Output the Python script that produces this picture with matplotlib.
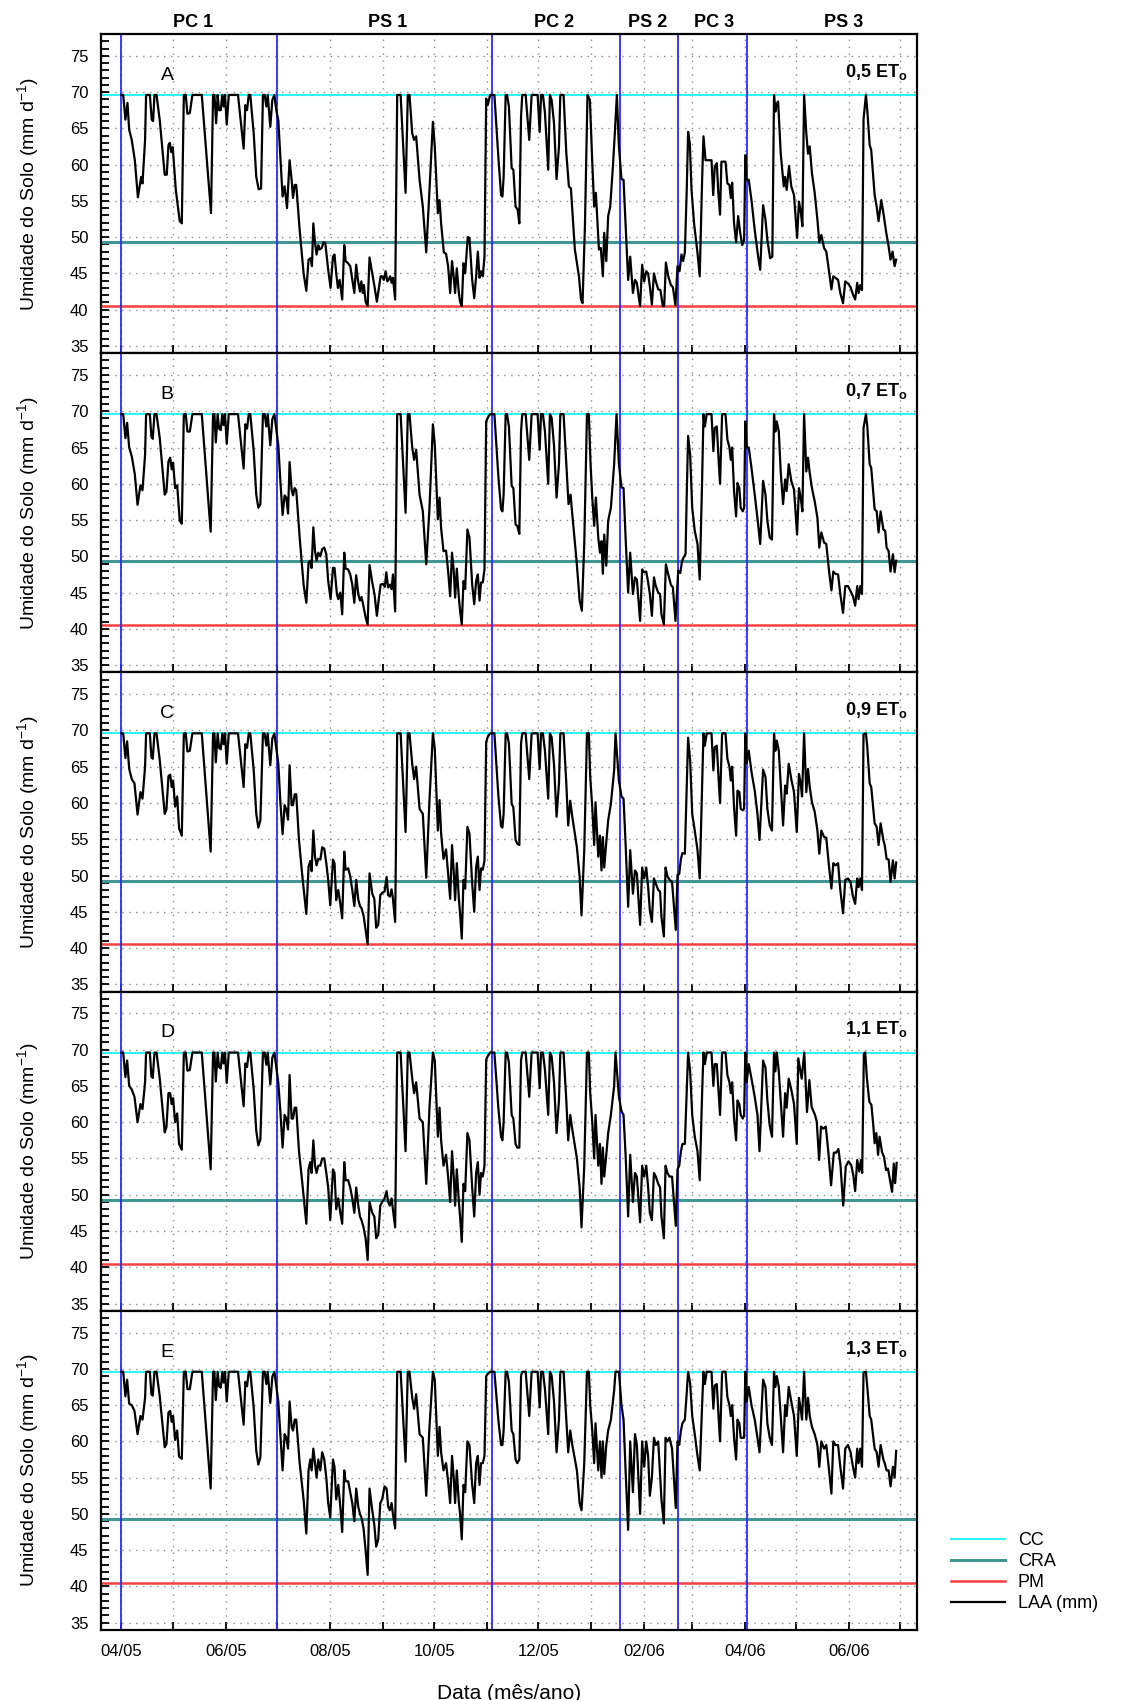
import matplotlib
matplotlib.use("Agg")
import matplotlib.pyplot as plt
import matplotlib.dates as mdates
import numpy as np

plt.rcParams['font.family'] = ['Liberation Sans', 'DejaVu Sans']
plt.rcParams['mathtext.fontset'] = 'custom'
plt.rcParams['mathtext.rm'] = 'Liberation Sans'
plt.rcParams['mathtext.bf'] = 'Liberation Sans:bold'

# ---- data (days counted from 01/04/2005, soil water in mm) ----
start = mdates.datestr2num('2005-04-01')

cc, cra, pm = 69.6, 49.3, 40.5
phase_dates = ['2005-04-01', '2005-07-01', '2005-11-04', '2006-01-18', '2006-02-21', '2006-04-02']
phase_names = ['PC 1', 'PS 1', 'PC 2', 'PS 2', 'PC 3', 'PS 3']
phase_label_days = [42, 156, 253, 308, 347, 423]
panel_letters = ['A', 'B', 'C', 'D', 'E']
eto_labels = ['0,5', '0,7', '0,9', '1,1', '1,3']
ylabels = ['Umidade do Solo (mm d$^{-1}$)'] * 3 + ['Umidade do Solo (mm$^{-1}$)', 'Umidade do Solo (mm d$^{-1}$)']

days_A = [0, 1, 2.3, 3.5, 4.5, 6, 7.8, 9.6, 11.5, 12.3, 13.8, 14.4, 16.6, 17.7, 18.5, 19.3, 20.5, 22.4, 25.3, 26.5,
          27.5, 28.3, 29.2, 30, 31.8, 34.1, 35.3, 36.5, 37.6, 38.6, 40, 41.5, 47, 52.4, 53.6, 54.4, 55.4, 56.3, 57.1, 58.1,
          59, 59.8, 60.6, 61.6, 62.8, 68.2, 71.5, 72.5, 73.5, 74.5, 75.4, 77.4, 78.9, 80.3, 81.7, 82.8, 83.8, 84.8, 85.6, 87.1,
          88.3, 89.5, 90.6, 91.8, 93, 94.3, 95.5, 96.9, 98.4, 99.6, 100.4, 101.4, 102.3, 104.3, 106.6, 108.2, 109.5, 110.7, 111.5, 112.3,
          113.3, 114.2, 115.2, 116, 117.2, 118.3, 119.3, 121, 122.4, 123.8, 124.7, 125.7, 126.7, 127.7, 129.2, 130.4, 131.2, 132.6, 133.9, 135.1,
          136.3, 137.4, 138.4, 139.6, 140.4, 141.3, 141.9, 142.9, 144.1, 145.2, 146.8, 148.1, 149.5, 150.7, 151.7, 152.6, 153.6, 154.6, 155.6, 156.3,
          157.3, 158.1, 158.9, 160.2, 161.4, 163.4, 166.3, 167.6, 168.6, 170.2, 171.3, 172.5, 174.5, 176.4, 178.4, 180.3, 182.3, 183.4, 185.2, 186.2,
          187.1, 188.7, 190, 191.2, 192.4, 193.5, 194.3, 195.3, 196.3, 197.5, 198.2, 199.2, 200.2, 201.2, 202.7, 203.7, 205.3, 206.5, 207.6, 208.6,
          209.6, 210.5, 211.5, 212.5, 213.5, 214.4, 215.8, 218.3, 220.6, 222.2, 223, 223.7, 224.9, 225.7, 226.8, 228.4, 229.4, 230.7, 231.9, 232.9,
          233.9, 234.6, 236.6, 238.7, 240.1, 243.6, 244.8, 245.6, 246.7, 247.9, 249.8, 250.8, 251.8, 253.2, 254.7, 256.1, 256.9, 258.8, 260.4, 261.9,
          263.1, 265.4, 267.8, 269, 269.9, 271.3, 272.8, 274.2, 275.6, 276.7, 277.7, 279.5, 280.6, 281.8, 282.6, 283.8, 284.9, 286.1, 287.7, 288.8,
          290, 291.2, 292.7, 293.9, 295.1, 296.6, 297.8, 299.4, 300.6, 301.7, 302.9, 303.6, 304.8, 306, 307.2, 308.3, 309.3, 310.5, 311.7, 312.8,
          314.2, 315.5, 316.9, 317.7, 318.7, 320.1, 321.6, 322.8, 324.3, 325.5, 326.7, 327.8, 328.8, 329.8, 330.9, 331.7, 332.7, 333.7, 335.2, 337.2,
          338.5, 339.9, 340.7, 341.9, 345.4, 346.4, 347.3, 348.5, 349.3, 350.4, 351.2, 353.6, 354.7, 355.9, 356.7, 357.5, 358.6, 359.8, 361, 362.2,
          363.4, 364.5, 365.2, 366, 367.2, 368.8, 370.7, 372.7, 373.9, 375.6, 377, 378.1, 379.7, 381, 382, 382.8, 383.6, 384.4, 385.9, 387.7,
          388.5, 389.4, 390.8, 392.1, 393.7, 395.5, 396.6, 397.6, 398.6, 399.6, 400.9, 401.9, 402.9, 404.2, 405.8, 407.4, 408.5, 409.7, 411.3, 412.6,
          414.2, 415.6, 416.7, 417.9, 419.5, 420.8, 422.4, 423.7, 425.3, 426.8, 428.2, 429.5, 430.7, 431.5, 432.5, 433.5, 434.4, 435.8, 436.6, 438,
          438.9, 440.9, 442.1, 443.2, 444.8, 446.3, 447.7, 449.1, 450.2, 451.4, 452.6, 453.5]
laa_A = [69.6, 69.6, 66.2, 68.5, 64.8, 63.4, 60.6, 55.5, 58.3, 57.4, 63.4, 69.6, 69.6, 66.2, 66.0, 69.6, 69.6, 66.1, 58.6, 58.6,
         62.7, 63.0, 61.7, 62.4, 56.5, 52.2, 51.9, 69.6, 69.6, 67.0, 67.1, 69.6, 69.6, 53.3, 69.6, 69.6, 65.7, 69.6, 67.5, 67.5,
         69.6, 68.0, 69.6, 65.5, 69.6, 69.6, 62.2, 68.2, 67.5, 69.6, 69.6, 64.3, 58.3, 56.6, 56.7, 69.6, 69.6, 68.0, 69.6, 65.2,
         68.9, 69.6, 67.5, 66.1, 61.1, 55.6, 57.0, 54.0, 60.6, 57.9, 55.4, 57.2, 57.2, 51.0, 45.0, 42.6, 46.9, 47.1, 46.0, 51.9,
         49.2, 47.6, 48.9, 48.3, 48.5, 49.3, 49.2, 45.5, 43.0, 47.3, 47.6, 45.0, 43.0, 44.1, 41.4, 48.9, 46.7, 46.4, 46.0, 44.1,
         42.3, 46.2, 44.1, 42.5, 43.9, 42.3, 43.4, 41.1, 40.5, 47.2, 45.0, 43.2, 41.1, 43.0, 44.6, 44.6, 44.1, 45.3, 43.9, 44.1,
         44.6, 43.7, 44.4, 41.4, 69.6, 69.6, 56.1, 69.6, 69.6, 64.3, 63.4, 63.9, 57.9, 54.2, 47.9, 56.5, 65.9, 62.5, 53.3, 55.1,
         51.9, 47.9, 47.7, 46.0, 42.3, 46.7, 45.0, 42.3, 45.7, 42.3, 41.1, 40.5, 46.4, 45.0, 50.0, 49.9, 44.1, 41.6, 44.6, 48.0,
         44.4, 45.3, 44.6, 47.3, 69.1, 68.2, 69.6, 69.6, 61.1, 55.8, 55.6, 58.3, 69.6, 69.6, 68.0, 59.5, 59.3, 54.2, 53.8, 51.9,
         66.6, 69.6, 69.6, 63.4, 69.6, 69.6, 64.5, 69.6, 69.6, 67.1, 59.3, 69.6, 68.9, 65.7, 58.0, 62.5, 69.6, 69.6, 61.6, 57.0,
         56.7, 48.3, 44.6, 41.4, 40.9, 51.5, 69.6, 68.9, 60.3, 54.2, 56.1, 48.3, 48.5, 44.6, 50.6, 46.7, 52.9, 54.2, 59.8, 64.3,
         69.6, 62.5, 58.0, 57.9, 51.9, 44.1, 47.3, 42.3, 44.1, 43.7, 41.6, 40.5, 46.2, 43.9, 45.3, 45.0, 43.2, 40.7, 45.0, 43.9,
         42.8, 42.7, 40.5, 40.5, 46.5, 44.6, 43.4, 43.1, 40.6, 46.0, 45.3, 47.6, 46.7, 47.9, 56.5, 64.5, 62.9, 56.5, 51.9, 47.8,
         44.6, 57.9, 63.9, 60.6, 60.6, 55.8, 59.7, 60.2, 56.5, 53.1, 60.4, 60.4, 57.4, 57.2, 55.4, 57.5, 51.9, 49.3, 52.9, 50.6,
         48.9, 49.6, 61.3, 57.9, 57.9, 55.1, 51.0, 47.3, 45.5, 54.4, 52.4, 49.6, 47.1, 47.3, 69.6, 67.3, 68.4, 68.7, 61.6, 57.0,
         58.3, 56.5, 59.8, 57.0, 55.8, 49.9, 54.9, 53.6, 51.5, 69.6, 64.3, 61.5, 62.5, 58.8, 56.1, 52.4, 49.3, 50.3, 48.5, 48.0,
         45.3, 42.8, 44.6, 44.4, 44.1, 42.3, 40.9, 43.9, 43.6, 43.1, 42.1, 41.4, 43.7, 42.3, 43.4, 42.7, 66.2, 69.6, 67.5, 62.7,
         62.0, 55.8, 54.2, 52.2, 55.1, 52.9, 50.6, 48.7, 46.9, 48.0, 46.0, 46.9]

days_B = [0, 1, 2.3, 3.3, 4.5, 6, 7.8, 9.4, 11.1, 12.3, 13.8, 14.4, 16.6, 17.5, 18.3, 19.3, 20.5, 22.4, 25.3, 26.3,
          27.5, 28.5, 29.4, 30.2, 31.4, 32.6, 34.1, 35.3, 36.5, 37.6, 38.6, 40, 41.5, 47, 52.2, 53.6, 54.4, 55.2, 56.3, 57.1,
          58.1, 59, 59.8, 60.6, 61.6, 62.8, 68.2, 71.5, 72.5, 73.5, 74.5, 75.4, 77.4, 78.9, 80.1, 81.3, 82.8, 83.8, 84.8, 85.6,
          87.1, 88.3, 89.5, 90.6, 91.8, 93, 94.3, 95.5, 96.5, 97.5, 98.4, 99.6, 100.4, 101.4, 102.3, 104.3, 106.6, 108.2, 109.5, 110.5,
          111.3, 112.3, 113.3, 114.2, 115.2, 116.4, 117.5, 118.7, 119.9, 121, 122.4, 123.8, 124.7, 126.1, 126.9, 128.1, 129.2, 130.4, 131.2, 132.7,
          133.9, 135.1, 136.3, 137.4, 138.6, 139.6, 140.5, 141.5, 142.9, 144.1, 145.2, 146.8, 148.1, 149.5, 150.7, 151.7, 153, 154.2, 155, 156.1,
          157.3, 158.1, 158.9, 160.2, 161.4, 163.4, 166.3, 167.6, 168.6, 170.2, 171.3, 172.5, 174.5, 176.4, 178.4, 180.3, 182.3, 183.4, 185.2, 186.2,
          187.1, 188.5, 190, 191.2, 192.4, 193.5, 194.5, 195.3, 196.3, 197.5, 198.2, 199.2, 200.2, 201.2, 202.5, 203.7, 205.3, 206.5, 207.6, 208.6,
          209.6, 210.5, 211.5, 212.5, 213.5, 214.4, 215.8, 218.3, 220.6, 222.2, 223, 223.7, 224.9, 225.7, 226.8, 228.4, 229.4, 230.7, 231.7, 232.9,
          233.9, 234.6, 236.6, 238.7, 240.1, 243.6, 244.8, 245.6, 246.7, 247.9, 249.8, 250.8, 251.8, 253.2, 254.7, 256.1, 256.9, 258.8, 260.4, 261.7,
          262.9, 263.9, 266.4, 268.2, 269.5, 270.9, 272.5, 273.6, 274.6, 275.6, 276.7, 277.7, 279.1, 280.1, 281, 281.8, 282.6, 283.8, 284.9, 286.5,
          288.4, 289.8, 291.2, 292.7, 293.9, 295.1, 296.6, 297.8, 299.4, 300.6, 301.7, 303.6, 304.8, 306, 307.2, 308.3, 309.3, 310.5, 311.7, 312.8,
          314.2, 315.3, 316.1, 317.5, 318.7, 320.1, 321.6, 322.8, 324.3, 325.9, 327.1, 328.2, 329.2, 330.2, 330.9, 331.7, 332.9, 334.1, 335.6, 337.2,
          338.5, 339.9, 340.7, 341.5, 342.6, 345.4, 346.5, 347.3, 348.5, 349.7, 350.4, 351.6, 353.6, 354.7, 355.9, 356.7, 357.5, 358.6, 359.8, 360.6,
          361.7, 362.5, 363.7, 364.5, 365.2, 366, 367.2, 368.8, 370.7, 372.7, 373.9, 375.6, 377, 378.1, 379.5, 380.8, 382, 382.8, 383.6, 384.8,
          385.9, 387.3, 388.5, 389.4, 390.6, 392.1, 393.7, 395.5, 396.6, 397.6, 398.6, 399.6, 400.9, 401.9, 402.9, 404.2, 405.8, 407.4, 408.5, 409.7,
          411.3, 412.6, 414.2, 415.6, 416.7, 417.9, 419.5, 420.8, 422.4, 423.7, 425.3, 426.8, 428.2, 429.5, 430.7, 431.5, 432.5, 433.5, 434.4, 435.8,
          436.6, 438, 438.9, 440.9, 442.1, 443.2, 444.4, 446, 447.1, 447.9, 449.1, 450.2, 451.6, 452.6, 453.5]
laa_B = [69.6, 69.6, 66.3, 68.4, 65.0, 63.8, 61.3, 57.1, 59.8, 59.1, 64.0, 69.6, 69.6, 66.5, 66.2, 69.6, 69.6, 66.3, 58.5, 58.9,
         63.1, 63.6, 62.0, 62.9, 59.4, 59.8, 54.9, 54.5, 69.6, 69.6, 67.2, 67.2, 69.6, 69.6, 53.4, 69.6, 69.6, 65.7, 69.6, 67.6,
         67.4, 69.6, 68.1, 69.6, 65.5, 69.6, 69.6, 62.1, 68.2, 67.6, 69.6, 69.6, 64.5, 58.5, 56.7, 57.2, 69.6, 69.6, 67.9, 69.6,
         65.3, 68.9, 69.6, 67.6, 65.3, 60.4, 55.7, 58.4, 58.1, 55.9, 63.0, 59.2, 58.4, 59.4, 59.1, 52.6, 46.1, 43.6, 49.1, 49.4,
         48.4, 54.0, 50.7, 49.4, 50.5, 50.0, 51.0, 51.2, 50.3, 46.6, 44.1, 48.4, 48.4, 44.8, 44.1, 45.0, 42.0, 50.5, 48.3, 48.2,
         47.5, 46.1, 43.6, 47.4, 44.8, 43.9, 44.4, 43.3, 41.6, 40.6, 48.8, 46.4, 44.8, 41.8, 44.3, 46.1, 46.2, 45.8, 47.8, 45.7,
         46.1, 45.5, 47.5, 42.4, 69.6, 69.6, 56.0, 69.6, 69.6, 65.0, 63.3, 64.7, 58.5, 56.2, 48.9, 56.7, 68.2, 65.4, 55.1, 58.1,
         53.9, 50.7, 50.8, 48.0, 44.5, 50.5, 48.0, 44.3, 48.3, 44.3, 42.5, 40.6, 46.6, 45.5, 53.7, 52.6, 46.1, 43.4, 46.6, 47.5,
         43.9, 46.4, 46.4, 48.2, 68.6, 69.1, 69.6, 69.6, 61.1, 56.5, 56.2, 58.5, 69.6, 69.6, 67.9, 59.7, 59.4, 54.4, 54.2, 53.1,
         67.2, 69.6, 69.6, 63.3, 69.6, 69.6, 64.7, 69.6, 69.6, 67.2, 60.0, 69.6, 69.1, 65.3, 58.1, 62.7, 69.6, 69.6, 62.7, 57.2,
         58.5, 55.8, 49.4, 43.9, 42.5, 51.7, 69.6, 69.6, 62.7, 58.1, 54.2, 58.1, 52.6, 50.5, 52.1, 47.6, 53.0, 48.7, 54.9, 56.7,
         62.7, 69.6, 62.7, 59.5, 59.4, 52.6, 45.0, 50.5, 44.8, 47.1, 46.8, 41.1, 48.2, 47.8, 47.9, 46.4, 44.8, 41.8, 47.1, 45.9,
         45.0, 44.8, 42.0, 40.6, 48.9, 47.5, 46.1, 45.7, 41.1, 48.0, 47.7, 49.4, 49.9, 50.3, 58.5, 66.6, 64.0, 56.7, 53.5, 51.7,
         46.8, 60.4, 69.6, 67.9, 69.6, 69.6, 64.5, 67.7, 67.9, 62.7, 60.0, 69.6, 69.6, 66.1, 65.0, 63.3, 65.0, 59.0, 55.5, 60.1,
         59.4, 56.7, 56.2, 56.7, 68.6, 65.0, 65.0, 62.2, 58.5, 54.4, 51.7, 60.4, 58.5, 54.9, 52.6, 52.3, 69.6, 67.2, 68.6, 67.2,
         61.7, 57.2, 60.6, 59.0, 62.7, 60.4, 59.2, 53.0, 59.4, 58.1, 56.2, 69.6, 61.7, 63.6, 61.5, 59.4, 57.6, 55.3, 51.2, 53.3,
         51.9, 51.7, 48.0, 45.3, 47.9, 47.6, 47.5, 44.8, 42.2, 45.9, 45.9, 45.2, 44.5, 43.2, 45.9, 44.1, 45.9, 44.8, 67.7, 69.6,
         67.9, 62.7, 62.2, 56.5, 56.2, 53.3, 56.2, 53.7, 53.5, 51.2, 50.7, 47.9, 50.3, 47.8, 49.4]

days_C = [0, 1, 2.3, 3.3, 4.5, 6, 7.6, 9.4, 11.1, 12.3, 13.8, 14.4, 16.6, 17.5, 18.3, 19.3, 20.5, 22.4, 25.3, 26.3,
          27.5, 28.5, 29.4, 30.2, 31.4, 32.6, 33.7, 35.3, 36.5, 37.6, 38.6, 40, 41.5, 47, 52.2, 53.6, 54.4, 55.2, 56.3, 57.1,
          58.1, 59, 59.8, 60.6, 61.6, 62.8, 68.2, 71.5, 72.5, 73.5, 74.5, 75.4, 77.4, 78.9, 80.1, 81.3, 82.8, 83.8, 84.8, 85.6,
          87.1, 88.3, 89.5, 90.6, 91.8, 93, 94.3, 95.5, 96.5, 97.5, 98.4, 99.6, 100.4, 101.4, 102.3, 103.9, 105.9, 108.2, 109.5, 110.5,
          111.3, 112.3, 113.3, 114.2, 115.2, 116.4, 117.5, 118.7, 119.9, 121, 122.2, 123.8, 124.7, 125.7, 126.9, 128.1, 129.2, 130.4, 131.2, 132.7,
          133.9, 135.1, 136.3, 137.4, 138.6, 139.6, 140.5, 141.7, 142.9, 144.1, 145.2, 146.8, 148, 149.1, 150.3, 151.5, 152.6, 154, 155.2, 156.1,
          157.1, 158.1, 158.9, 160.2, 161.4, 163.4, 166.3, 167.6, 168.6, 170.2, 171.3, 172.5, 174.5, 176.4, 178.4, 180.3, 182.3, 183.4, 185.2, 186.2,
          187.1, 188.5, 190, 191.2, 192.4, 193.5, 194.5, 195.3, 196.3, 197.5, 198.2, 199.2, 200.2, 201.2, 202.5, 203.7, 205.3, 206.5, 207.6, 208.6,
          209.6, 210.5, 211.5, 212.5, 213.5, 214.4, 215.8, 218.3, 220.6, 222.2, 223, 223.7, 224.9, 225.7, 226.8, 228.4, 229.4, 230.7, 231.7, 232.9,
          233.9, 234.6, 236.6, 238.7, 240.1, 243.6, 244.8, 245.6, 246.7, 247.9, 249.8, 250.8, 251.8, 253.2, 254.7, 256.1, 256.9, 258.8, 260.4, 261.5,
          262.7, 263.9, 266.6, 268.2, 269.3, 270.9, 272.5, 273.6, 274.4, 275.6, 276.7, 277.5, 279.1, 280.1, 281, 281.8, 282.6, 283.8, 284.9, 286.5,
          288.4, 289.2, 291.2, 292.7, 293.9, 295.1, 296.6, 297.8, 299.4, 300.6, 301.7, 303.6, 304.8, 306, 307.2, 308.3, 309.3, 310.5, 311.7, 312.8,
          314.2, 315.3, 316.1, 317.5, 318.5, 319.6, 320.8, 322.3, 324.5, 325.5, 326.5, 327.5, 328.4, 329.8, 330.7, 331.7, 332.9, 334.1, 335.6, 337.2,
          338.5, 339.9, 340.7, 341.5, 342.6, 345.4, 346.5, 347.3, 348.5, 349.7, 350.4, 351.6, 353.6, 354.7, 355.9, 356.7, 357.5, 358.6, 359.8, 360.6,
          361.7, 362.5, 363.7, 364.5, 365.2, 366, 367.2, 368.8, 370.7, 372.3, 373.5, 375.6, 377, 378.1, 379.5, 380.8, 382, 382.8, 383.6, 384.8,
          385.9, 387.3, 388.5, 389.4, 390.6, 392.1, 393.7, 395.3, 396.6, 397.6, 398.4, 399.6, 400.9, 401.9, 402.9, 404.2, 405.8, 407.4, 408.5, 409.7,
          411.3, 412.6, 414, 415.6, 416.7, 417.9, 419.5, 420.8, 422.4, 423.7, 425.3, 426.8, 428.2, 429.5, 430.7, 431.5, 432.5, 433.5, 434.4, 435.8,
          436.6, 438, 438.9, 440.9, 442.1, 443.2, 444.4, 446, 446.8, 447.9, 449.1, 450.2, 451.6, 452.6, 453.5]
laa_C = [69.6, 69.6, 66.2, 68.5, 64.7, 63.3, 62.7, 58.4, 61.5, 60.6, 65.0, 69.6, 69.6, 66.3, 66.1, 69.6, 69.6, 65.9, 58.5, 59.1,
         63.7, 63.9, 62.2, 63.1, 59.5, 60.9, 56.5, 55.5, 69.6, 69.6, 67.1, 67.2, 69.6, 69.6, 53.3, 69.6, 69.6, 65.6, 69.6, 67.6,
         67.4, 69.6, 68.1, 69.6, 65.4, 69.6, 69.6, 62.2, 68.1, 67.6, 69.6, 69.6, 64.5, 58.5, 56.6, 57.6, 69.6, 69.6, 67.9, 69.6,
         65.2, 68.9, 69.6, 67.6, 65.4, 60.1, 55.7, 59.7, 59.1, 57.7, 65.2, 59.7, 59.7, 61.2, 61.2, 54.9, 49.8, 44.7, 51.2, 52.0,
         50.6, 56.2, 52.6, 51.4, 52.3, 52.2, 53.9, 53.7, 51.7, 49.4, 45.9, 52.2, 51.7, 46.6, 48.0, 46.1, 44.1, 53.3, 50.8, 51.0,
         49.9, 48.0, 45.8, 49.4, 46.7, 45.8, 45.5, 44.5, 42.5, 40.5, 50.3, 47.5, 46.8, 42.8, 43.2, 47.3, 47.6, 47.8, 49.8, 47.3,
         47.1, 48.1, 46.8, 43.6, 69.6, 69.6, 56.0, 69.6, 69.6, 65.4, 63.3, 65.0, 59.2, 58.5, 49.7, 60.4, 69.6, 67.5, 56.2, 60.4,
         55.8, 52.3, 53.6, 50.3, 46.8, 54.2, 50.5, 46.6, 51.7, 46.8, 44.8, 41.3, 49.4, 48.2, 56.7, 55.8, 48.9, 45.0, 51.2, 52.6,
         48.0, 51.0, 50.8, 52.1, 68.4, 69.1, 69.6, 69.6, 61.1, 56.8, 56.6, 58.5, 69.6, 69.6, 68.2, 59.9, 59.4, 54.9, 54.4, 54.2,
         68.2, 69.6, 69.6, 63.3, 69.6, 69.6, 64.7, 69.6, 69.6, 67.2, 60.6, 69.6, 69.1, 65.3, 58.1, 62.7, 69.6, 69.6, 62.7, 56.9,
         60.3, 58.1, 53.9, 49.8, 44.5, 53.5, 69.6, 69.6, 63.6, 59.4, 54.2, 60.1, 52.6, 55.5, 50.7, 55.3, 51.1, 54.6, 57.6, 59.9,
         64.5, 69.6, 63.1, 60.9, 60.6, 54.4, 45.7, 53.5, 47.5, 50.7, 50.3, 43.2, 51.1, 49.6, 51.1, 48.4, 45.2, 43.6, 49.6, 48.9,
         48.0, 47.8, 44.3, 41.6, 51.1, 49.9, 49.4, 49.1, 42.5, 50.1, 50.2, 52.3, 53.1, 53.0, 60.4, 69.0, 65.9, 58.5, 56.2, 53.5,
         49.6, 62.7, 69.6, 67.9, 69.6, 69.6, 64.5, 67.7, 67.9, 62.7, 60.0, 69.6, 69.6, 66.1, 65.0, 63.1, 65.0, 59.4, 55.5, 61.7,
         61.5, 59.2, 59.0, 59.2, 69.6, 65.5, 67.2, 64.3, 61.7, 58.5, 54.9, 64.6, 63.6, 59.2, 56.9, 56.2, 69.6, 67.2, 68.6, 67.2,
         62.7, 56.9, 62.4, 61.3, 65.4, 63.3, 61.5, 56.0, 64.0, 62.7, 60.9, 69.6, 61.5, 64.7, 62.2, 60.1, 58.8, 56.2, 53.0, 56.2,
         55.3, 55.2, 51.7, 48.2, 51.7, 51.4, 51.7, 48.0, 44.8, 49.4, 49.6, 49.1, 47.1, 46.1, 49.6, 48.4, 49.6, 48.0, 69.5, 69.6,
         67.7, 62.7, 62.2, 57.2, 56.7, 54.2, 57.2, 54.9, 54.2, 52.3, 52.2, 49.1, 52.1, 49.6, 51.8]

# panel D shares the C sampling dates up to day 395.3
days_D = days_C[:308] + [396.2, 398.2, 399.7, 401.3, 402.7, 404, 406, 407, 408.4, 409.5, 410.9, 412.3, 413.8, 415.4, 417,
                         418.4, 419.7, 420.9, 422.5, 424, 425.6, 427.2, 428.4, 429.5, 430.7, 431.9, 432.9, 433.6, 434.6, 435.4,
                         436.4, 437.8, 439, 440.1, 440.9, 441.9, 442.9, 443.8, 445.2, 446.4, 447.6, 448.7, 449.9, 451.1, 452.1,
                         452.9, 453.8]
laa_D = [69.6, 69.6, 66.2, 68.5, 65.0, 64.5, 63.5, 60.0, 62.5, 61.8, 65.5, 69.6, 69.6, 66.3, 66.1, 69.6, 69.6, 66.0, 58.6, 59.3,
         64.0, 64.0, 62.5, 63.3, 60.0, 61.2, 57.0, 56.2, 69.6, 69.6, 67.1, 67.2, 69.6, 69.6, 53.5, 69.6, 69.6, 65.6, 69.6, 67.6,
         67.4, 69.6, 68.1, 69.6, 65.4, 69.6, 69.6, 62.2, 68.1, 67.6, 69.6, 69.6, 64.5, 58.8, 56.8, 57.6, 69.6, 69.6, 67.9, 69.6,
         65.2, 68.9, 69.6, 67.6, 65.4,
         61.5, 56.5, 61.0, 60.5, 59.0, 66.5, 60.5, 60.5, 62.0, 62.0, 56.0, 51.5, 46.0, 53.5, 54.5, 53.0, 57.5, 54.0, 53.0, 54.0,
         54.0, 55.0, 55.0, 53.0, 51.0, 46.5, 53.5, 53.0, 48.0, 49.5, 47.5, 46.0, 54.5, 52.0, 52.0, 51.0, 49.5, 47.5, 51.0, 48.5,
         47.0, 46.5, 45.5, 44.0, 41.0, 49.0, 47.5, 47.0, 44.0, 44.5, 48.5, 49.0, 49.5, 50.5, 49.0, 48.5, 49.5, 48.0, 45.5,
         69.6, 69.6, 56.0, 69.6, 69.6, 66.0, 64.0, 65.5, 60.5, 60.0, 51.5, 62.0, 69.6, 68.5, 58.0, 62.0, 57.5, 54.0, 55.5, 52.5,
         49.0, 56.0, 52.5, 48.5, 53.5, 49.0, 47.0, 43.5, 51.5, 50.5, 58.5, 57.5, 51.0, 47.0, 53.0, 54.5, 50.0, 53.0, 52.5, 54.0,
         68.6, 69.1, 69.6, 69.6,
         62.0, 58.0, 57.5, 60.0, 69.6, 69.6, 68.2, 61.0, 60.5, 57.0, 56.5, 56.5, 68.5, 69.6, 69.6, 63.5, 69.6, 69.6, 64.7, 69.6,
         69.6, 67.2, 61.0, 69.6, 69.1, 65.5, 58.5, 63.0, 69.6, 69.6, 63.0, 57.5, 61.0, 59.0, 55.0, 51.0, 45.5, 54.0, 69.6, 69.6,
         64.0, 60.0, 55.0, 61.0, 54.0, 57.0, 51.5, 56.5, 52.5, 55.5, 58.5, 61.0, 65.0, 69.6, 63.5,
         61.5, 61.0, 55.5, 47.0, 55.5, 49.0, 53.0, 52.5, 46.2, 54.0, 52.5, 54.0, 51.0, 47.5, 46.5, 53.0, 52.5, 51.5, 51.0, 47.0,
         44.0, 54.0, 53.0, 52.5, 52.5, 45.7,
         53.5, 54.0, 56.0, 57.0, 57.0, 63.0, 69.6, 67.0, 61.0, 58.0, 56.0, 52.0, 64.0, 69.6, 68.0, 69.6, 69.6, 65.0, 68.0, 68.0,
         63.5, 61.0, 69.6, 69.6, 66.5, 65.5, 64.0, 65.5, 60.5, 57.5, 63.0, 62.5, 61.0, 60.5, 61.0, 69.6,
         65.5, 68.0, 66.0, 63.5, 61.0, 56.0, 68.5, 67.5, 63.0, 59.5, 58.0, 69.6, 67.0, 69.6, 67.0, 63.0, 58.0, 64.0, 62.0, 66.0,
         64.5, 62.5, 57.0,
         68.8, 66.0, 69.6, 61.4, 65.8, 62.1, 61.0, 60.1, 54.8, 59.4, 59.1, 59.4, 55.9, 51.3, 55.8, 55.8, 56.3, 54.1, 48.5, 53.9,
         54.6, 54.1, 52.7, 50.5, 54.8, 53.2, 54.8, 53.0, 69.5, 69.6, 66.0, 62.8, 62.4, 59.6, 57.1, 58.5, 55.5, 58.0, 55.9, 55.2,
         53.4, 53.6, 52.0, 50.4, 54.3, 51.6, 54.4]

# panel E shares the C sampling dates over PC 1
days_E = days_C[:65] + [
    93, 94.3, 95.5, 96.5, 97.5, 98.4, 99.6, 100.4, 101.4, 102.3, 104.3, 106.6, 108.2, 109.5, 110.5, 111.3, 112.3, 113.3, 114.2, 115.2,
    116.4, 117.5, 118.7, 119.9, 121, 122.2, 123.8, 124.7, 125.7, 126.9, 128.1, 129.2, 130.4, 131.2, 132.7, 133.9, 135.1, 136.3, 137.4, 138.6,
    139.6, 140.5, 141.7, 142.9, 144.1, 145.2, 146.8, 148, 149.1, 150.3, 151.5, 152.6, 154, 155.2, 156.1, 157.1, 158.1, 158.9, 160.2,
    161.4, 163.4, 166.3, 167.6, 168.6, 170.2, 171.3, 172.5, 174.5, 176.4, 178.4, 180.3, 182.3, 183.4, 185.2, 186.2, 187.1, 188.5, 190, 191.2,
    192.4, 193.5, 194.5, 195.3, 196.3, 197.5, 198.2, 199.2, 200.2, 201.2, 202.5, 203.7, 205.3, 206.5, 207.6, 208.6, 209.6, 210.5, 211.5, 212.5,
    213.5, 214.4, 215.8, 218.3,
    220.6, 222.2, 223, 223.7, 224.9, 225.7, 226.8, 228.4, 229.4, 230.7, 231.7, 232.9, 233.9, 234.6, 236.6, 238.7, 240.1, 243.6, 244.8, 245.6,
    246.7, 247.9, 249.8, 250.8, 251.8, 253.2, 254.7, 256.1, 256.9, 258.8, 260.4, 261.5, 262.7, 263.9, 266.6, 268.2, 269.3, 270.9, 272.5, 273.6,
    274.4, 275.6, 276.7, 277.5, 279.1, 280.1, 281, 281.8, 282.6, 283.8, 284.9, 286.5, 288.4, 289.2, 291.2,
    292.7, 293.9, 295.1, 296.6, 297.8, 299.4, 300.6, 301.7, 303.6, 304.8, 306, 307.2, 308.3, 309.3, 310.5, 311.7, 312.8, 314.2, 315.3, 316.1,
    317.5, 318.5, 319.6, 320.8, 322.3, 324.5, 325.5, 326.5,
    327.5, 328.4, 329.8, 330.7, 331.7, 332.9, 334.1, 335.6, 337.2, 338.5, 339.9, 340.7, 341.5, 342.6, 345.4, 346.5, 347.3, 348.5, 349.7, 350.4,
    351.6, 353.6, 354.7, 355.9, 356.7, 357.5, 358.6, 359.8, 360.6, 361.7, 362.5, 363.7, 364.5, 365.2,
    366, 367.2, 368.8, 370.7, 372.3, 373.5, 375.6, 377, 378.1, 379.5, 380.8, 382, 382.8, 383.6, 384.8, 385.9, 387.3, 388.5, 389.4, 390.6,
    392.1, 393.7, 395.3, 396.6, 397.6, 398.4, 399.6, 400.9, 401.9, 402.9, 404.2, 405.8, 407.4, 408.5, 409.7, 411.3, 412.6, 414, 415.6, 416.7,
    417.9, 419.5, 420.8, 422.4, 423.7, 425.3, 426.8, 428.2, 429.5, 430.7, 431.5, 432.5, 433.5, 434.4, 435.8, 436.6, 438, 438.9, 440.9, 442.1,
    443.2, 444.4, 446, 446.8, 447.9, 449.1, 450.2, 451.6, 452.6, 453.5]
laa_E = [69.6, 69.6, 66.2, 68.5, 65.2, 65.0, 64.2, 61.0, 63.5, 63.0, 66.0, 69.6, 69.6, 66.5, 66.3, 69.6, 69.6, 66.2, 59.2, 59.6,
         64.0, 64.2, 62.7, 63.5, 60.2, 61.5, 57.9, 57.6, 69.6, 69.6, 67.2, 67.2, 69.6, 69.6, 53.5, 69.6, 69.6, 65.7, 69.6, 67.6,
         67.4, 69.6, 68.1, 69.6, 65.5, 69.6, 69.6, 62.3, 68.2, 67.6, 69.6, 69.6, 64.6, 58.7, 56.8, 57.8, 69.6, 69.6, 67.9, 69.6,
         65.3, 68.9, 69.6, 67.6, 65.5,
         61.0, 56.0, 61.0, 60.5, 59.0, 65.5, 62.0, 61.5, 63.0, 63.0, 57.0, 52.0, 47.3, 56.0, 57.5, 56.0, 59.0, 57.0, 55.0, 57.5,
         56.0, 58.5, 57.5, 55.0, 51.5, 49.5, 57.5, 56.5, 52.0, 54.0, 51.0, 47.5, 56.0, 54.5, 54.5, 53.0, 51.5, 49.0, 53.5, 51.0,
         50.0, 49.5, 48.0, 45.0, 41.6, 53.5, 50.5, 48.5, 45.5, 46.5, 51.5, 52.0, 53.8, 53.5, 51.0, 50.5, 51.5, 50.0, 48.0,
         69.6, 69.6, 57.2, 69.6, 69.6, 66.0, 64.5, 66.5, 61.0, 60.5, 52.5, 62.0, 69.6, 68.5, 58.0, 62.0, 58.5, 56.0, 57.0, 54.5,
         51.5, 58.0, 55.0, 51.5, 56.0, 51.5, 50.0, 46.5, 54.0, 53.0, 60.0, 59.5, 54.0, 51.5, 57.0, 58.0, 54.0, 57.0, 57.0, 58.0,
         69.0, 69.3, 69.6, 69.6,
         63.0, 59.5, 59.5, 61.5, 69.6, 69.6, 68.2, 61.5, 61.0, 57.5, 57.0, 57.5, 69.0, 69.6, 69.6, 63.5, 69.6, 69.6, 64.7, 69.6,
         69.6, 67.2, 61.0, 69.6, 69.1, 65.5, 58.5, 63.0, 69.6, 69.6, 63.0, 58.5, 61.5, 59.5, 56.0, 51.5, 50.5, 57.0, 69.6, 69.6,
         65.0, 61.5, 57.0, 62.5, 56.0, 60.0, 55.0, 60.0, 55.5, 59.5, 61.5, 63.0, 67.0, 69.6, 69.6,
         65.0, 63.0, 56.0, 47.8, 60.0, 53.0, 61.0, 59.5, 50.0, 60.0, 56.5, 60.0, 58.0, 52.5, 55.0, 60.5, 59.5, 60.0, 55.5, 52.0,
         48.7, 60.5, 60.0, 60.5, 59.0, 50.8, 60.0, 59.5,
         61.5, 62.5, 63.0, 66.0, 69.6, 68.0, 63.5, 61.0, 58.0, 56.0, 65.0, 69.6, 67.9, 69.6, 69.6, 64.5, 67.7, 67.9, 62.7, 60.0,
         69.6, 69.6, 66.1, 65.0, 63.5, 65.0, 60.5, 57.5, 63.0, 62.5, 60.5, 60.5, 60.5, 69.6,
         65.5, 67.5, 65.0, 63.0, 60.5, 58.5, 68.5, 67.5, 62.5, 60.5, 59.5, 69.6, 67.5, 69.0, 67.5, 63.5, 58.5, 65.0, 63.5, 67.5,
         65.5, 63.5, 58.0, 66.0, 64.5, 63.0, 69.6, 63.0, 66.0, 63.5, 62.0, 61.0, 59.5, 56.5, 60.0, 59.0, 59.5, 56.5, 52.8, 60.0,
         59.5, 59.5, 56.5, 53.5, 59.0, 59.5, 58.5, 56.5, 55.0, 59.0, 57.0, 59.0, 56.5, 69.5, 69.6, 67.5, 63.5, 63.0, 59.0, 58.5,
         56.5, 59.5, 57.5, 57.0, 56.0, 56.0, 53.8, 56.5, 55.0, 58.7]

all_days = [days_A, days_B, days_C, days_D, days_E]
all_laa = [laa_A, laa_B, laa_C, laa_D, laa_E]

# ---- figure ----
W, H = 1121, 1700
fig = plt.figure(figsize=(W / 100, H / 100), dpi=100)

left, right = 101, 917
top0, ph = 34, 319.2

for i in range(5):
    y_top = top0 + i * ph
    ax = fig.add_axes([left / W, 1 - (y_top + ph) / H, (right - left) / W, ph / H])

    l_cc = ax.axhline(cc, color='#2ef5f5', lw=1.5, zorder=2)
    l_cra = ax.axhline(cra, color='#3f9692', lw=2.2, zorder=2)
    l_pm = ax.axhline(pm, color='#f54040', lw=1.8, zorder=2)
    for d in phase_dates:
        ax.axvline(mdates.datestr2num(d), color='#2a2aff', lw=1.3, zorder=2)

    x = start + np.array(all_days[i], dtype=float)
    l_laa, = ax.plot(x, all_laa[i], color='black', lw=1.6, zorder=3)

    ax.set_ylim(34, 78)
    ax.set_yticks(np.arange(35, 76, 5))
    ax.set_yticks(np.arange(34, 79, 1), minor=True)
    ax.set_xlim(start - 12, start + 465.7)
    ax.xaxis_date()
    ax.xaxis.set_major_locator(mdates.MonthLocator(bymonth=(2, 4, 6, 8, 10, 12)))
    ax.xaxis.set_minor_locator(mdates.MonthLocator())
    ax.xaxis.set_major_formatter(mdates.DateFormatter('%m/%y'))

    ax.grid(True, which='both', axis='x', color='#8a8a8a', ls=(0, (1, 4)), lw=1)
    ax.grid(True, which='major', axis='y', color='#8a8a8a', ls=(0, (1, 4)), lw=1)
    ax.set_axisbelow(True)

    ax.tick_params(axis='both', which='both', direction='in', width=1.3, length=6,
                   top=False, right=False, labelsize=12)
    ax.tick_params(axis='y', pad=9)
    ax.tick_params(axis='x', pad=10)
    if i < 4:
        ax.tick_params(axis='x', labelbottom=False)
    for s in ax.spines.values():
        s.set_linewidth(1.6)

    ax.text(0.081, 72.3, panel_letters[i], transform=ax.get_yaxis_transform(),
            fontsize=14, ha='center', va='center')
    ax.text(0.988, 72.8, eto_labels[i] + ' ET$_\\mathbf{o}$', transform=ax.get_yaxis_transform(),
            fontsize=13, fontweight='bold', ha='right', va='center')

    fig.text(28.6 / W, 1 - (y_top + ph / 2) / H, ylabels[i], rotation=90,
             ha='center', va='center', fontsize=14)

    if i == 0:
        for name, d in zip(phase_names, phase_label_days):
            ax.text(start + d, 1 + (34 - 22.7) / ph, name, transform=ax.get_xaxis_transform(),
                    ha='center', va='center', fontsize=13, fontweight='bold')
        handles = [l_cc, l_cra, l_pm, l_laa]
    if i == 4:
        ax.set_xlabel('Data (mês/ano)', fontsize=15, labelpad=18)

fig.legend(handles, ['CC', 'CRA', 'PM', 'LAA (mm)'], loc='center left',
           bbox_to_anchor=(951 / W, 1 - 1572 / H), frameon=False, fontsize=13,
           handlelength=3.0, handletextpad=0.7, labelspacing=0.22,
           borderpad=0, borderaxespad=0)

fig.savefig('out.png', dpi=100)
